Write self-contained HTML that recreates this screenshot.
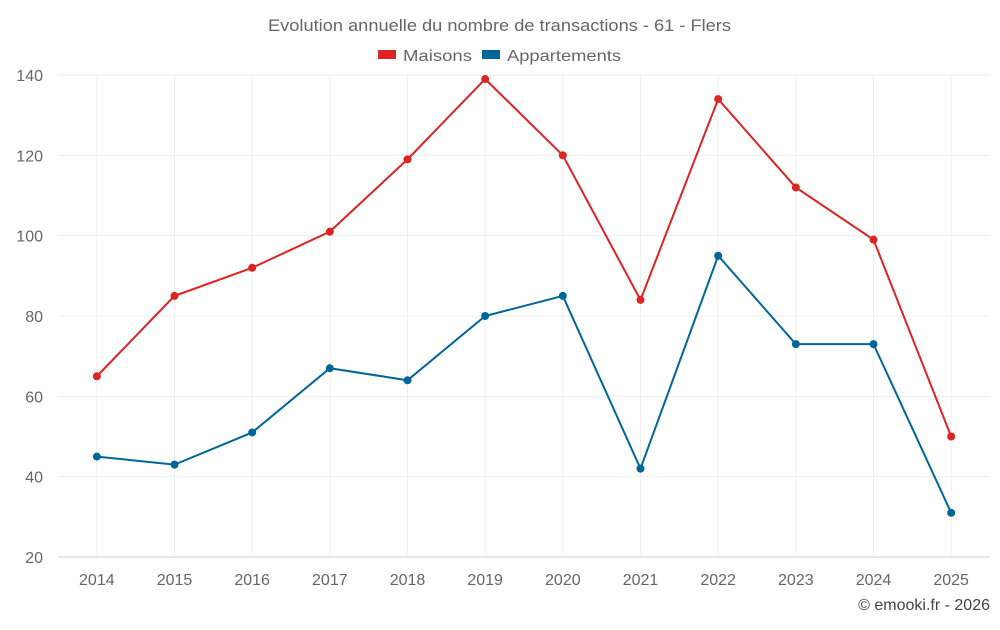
<!DOCTYPE html>
<html><head><meta charset="utf-8"><style>
body{margin:0;background:#fff;font-family:"Liberation Sans",sans-serif}
</style></head><body>
<svg id="c" width="1000" height="625" xmlns="http://www.w3.org/2000/svg">
<text x="268" y="31" textLength="463" lengthAdjust="spacingAndGlyphs" font-size="17" fill="#666">Evolution annuelle du nombre de transactions - 61 - Flers</text>
<g>
<g><rect x="378" y="50" width="18" height="9" fill="#dd2323"/><text x="403" y="61" textLength="69" lengthAdjust="spacingAndGlyphs" font-size="16" fill="#666">Maisons</text></g>
<g><rect x="482" y="50" width="18" height="9" fill="#006699"/><text x="507" y="61" textLength="114" lengthAdjust="spacingAndGlyphs" font-size="16" fill="#666">Appartements</text></g>
</g>
<g id="grid"></g><g id="axes"></g><g id="series"></g>
<text x="990" y="610" text-anchor="end" font-size="16" fill="#444">© emooki.fr - 2026</text>
</svg>
<script>
const categories=["2014","2015","2016","2017","2018","2019","2020","2021","2022","2023","2024","2025"];
const maisons=[65,85,92,101,119,139,120,84,134,112,99,50];
const appartements=[45,43,51,67,64,80,85,42,95,73,73,31];
const yTicks=[20,40,60,80,100,120,140];
const NS="http://www.w3.org/2000/svg";
const L=58,R=990,T=75,B=557,yMin=20,yMax=140;
const bw=(R-L)/categories.length;
const x=i=>L+bw*(i+0.5);
const y=v=>B-(v-yMin)/(yMax-yMin)*(B-T);
function mk(tag,a,p){const e=document.createElementNS(NS,tag);for(const k in a)e.setAttribute(k,a[k]);p.appendChild(e);return e;}
const g=document.getElementById('grid'),ax=document.getElementById('axes'),s=document.getElementById('series');
yTicks.forEach(v=>{
 const l=mk('line',{x1:L,x2:R,y1:y(v),y2:y(v),stroke:v===yMin?'#ccc':'#eee'},g);
 
 
 const t=mk('text',{x:L-15,y:y(v)+6,'text-anchor':'end','font-size':16,fill:'#666'},ax);t.textContent=v;
 
 
});
categories.forEach((c,i)=>{
 const l=mk('line',{x1:x(i),x2:x(i),y1:T,y2:B,stroke:'#eee'},g);
 
 
 const t=mk('text',{x:x(i),y:B+28,'text-anchor':'middle','font-size':16,fill:'#666'},ax);t.textContent=c;
 
 
});
function series(d,col,name){
 const p=mk('polyline',{points:d.map((v,i)=>x(i)+','+y(v)).join(' '),fill:'none',stroke:col,'stroke-width':2},s);
 
 
 d.forEach((v,i)=>{const c=mk('circle',{cx:x(i),cy:y(v),r:4,fill:col},s);
  
  });
}
series(maisons,'#dd2323','maisons');
series(appartements,'#006699','appartements');
</script>
</body></html>
